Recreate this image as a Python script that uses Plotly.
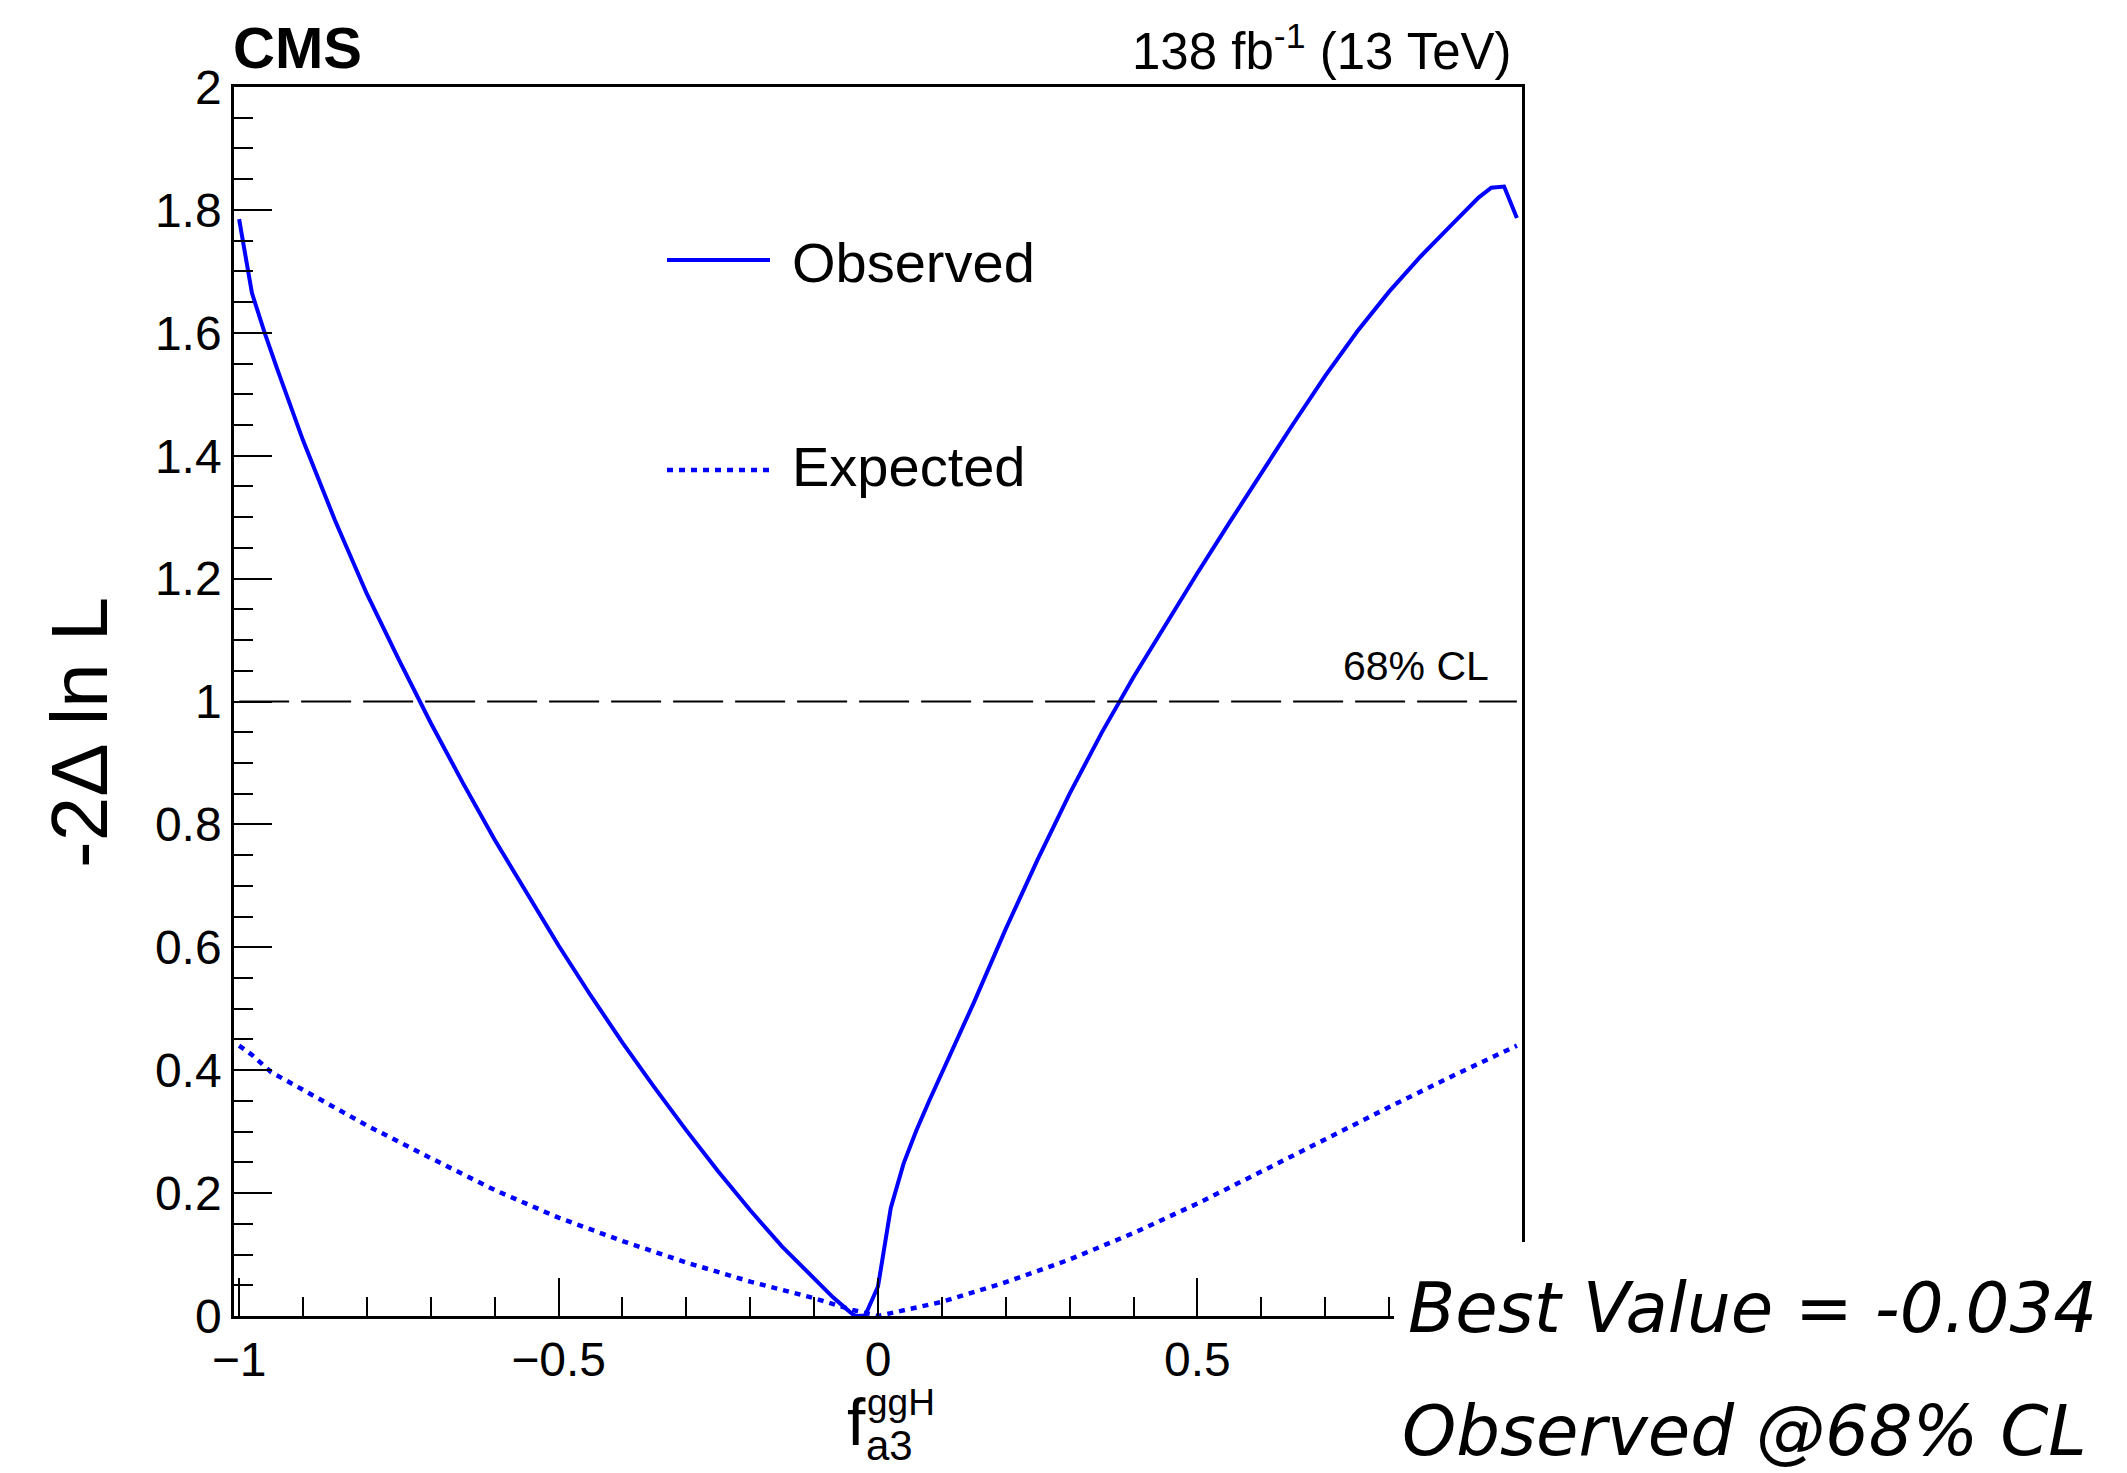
import plotly.graph_objects as go

# ---------------- data ----------------
obs_x = [-1.00, -0.99, -0.98, -0.96, -0.94, -0.90, -0.85, -0.80, -0.75, -0.70,
         -0.65, -0.60, -0.55, -0.50, -0.45, -0.40, -0.35, -0.30, -0.25, -0.20,
         -0.15, -0.10, -0.07, -0.05, -0.04, -0.034, -0.02, 0.00, 0.02, 0.04,
         0.06, 0.08, 0.10, 0.12, 0.15, 0.20, 0.25, 0.30, 0.35, 0.40,
         0.45, 0.50, 0.55, 0.60, 0.65, 0.70, 0.75, 0.80, 0.85, 0.90,
         0.94, 0.96, 0.98, 1.00]
obs_y = [1.785, 1.722, 1.665, 1.600, 1.540, 1.425, 1.295, 1.175, 1.068, 0.965,
         0.868, 0.775, 0.688, 0.603, 0.522, 0.445, 0.372, 0.302, 0.235, 0.172,
         0.113, 0.060, 0.030, 0.012, 0.003, 0.000, 0.001, 0.048, 0.176, 0.248,
         0.302, 0.350, 0.396, 0.440, 0.510, 0.630, 0.743, 0.850, 0.949, 1.040,
         1.126, 1.209, 1.291, 1.372, 1.452, 1.530, 1.602, 1.667, 1.725, 1.778,
         1.820, 1.836, 1.838, 1.787]

exp_x = [-1.00, -0.98, -0.95, -0.90, -0.80, -0.70, -0.60, -0.50, -0.40, -0.30,
         -0.20, -0.10, -0.04, 0.00, 0.10, 0.20, 0.30, 0.40, 0.50, 0.60,
         0.70, 0.80, 0.90, 1.00]
exp_y = [0.440, 0.425, 0.397, 0.368, 0.310, 0.257, 0.205, 0.160, 0.122, 0.087,
         0.056, 0.029, 0.010, 0.000, 0.023, 0.055, 0.092, 0.135, 0.183, 0.235,
         0.288, 0.340, 0.391, 0.440]

cl_x = [-1.0, 1.0]
cl_y = [1.0, 1.0]

x_tick_vals = [-1, -0.5, 0, 0.5, 1]
x_tick_text = ["\u22121", "\u22120.5", "0", "0.5", ""]
y_tick_vals = [0, 0.2, 0.4, 0.6, 0.8, 1.0, 1.2, 1.4, 1.6, 1.8, 2.0]
y_tick_text = ["0", "0.2", "0.4", "0.6", "0.8", "1", "1.2", "1.4", "1.6", "1.8", "2"]

best_value_text = "Best Value = -0.034"
observed_cl_text = "Observed @68% CL"

# ---------------- layout geometry (pixels) ----------------
W, H = 2127, 1473
L, R, T, B = 234, 1522, 87, 1316


def px(x):
    return (x - L) / (R - L)


def py(y):
    return (B - y) / (B - T)


FONT = "Liberation Sans, Arial, Helvetica, sans-serif"
NOTE_FONT = "DejaVu Sans, Open Sans, sans-serif"
BLUE = "#0000ff"

fig = go.Figure()
fig.add_trace(go.Scatter(x=obs_x, y=obs_y, mode="lines", name="Observed",
                         line=dict(color=BLUE, width=4), showlegend=False))
fig.add_trace(go.Scatter(x=exp_x, y=exp_y, mode="lines", name="Expected",
                         line=dict(color=BLUE, width=4.5, dash="6px,6px"),
                         showlegend=False))
fig.add_trace(go.Scatter(x=cl_x, y=cl_y, mode="lines", name="68% CL",
                         line=dict(color="black", width=2, dash="50px,12px"),
                         showlegend=False))

axis_common = dict(showgrid=False, zeroline=False, showline=True,
                   linecolor="black", linewidth=2.5, mirror=True,
                   ticks="inside", tickcolor="black", tickwidth=2, ticklen=38,
                   ticklabelstandoff=0,
                   tickfont=dict(family=FONT, size=48, color="black"))

fig.update_xaxes(range=[-1.008, 1.008], tickmode="array",
                 tickvals=x_tick_vals, ticktext=x_tick_text,
                 minor=dict(dtick=0.1, tick0=0, ticks="inside", ticklen=19,
                            tickwidth=2, tickcolor="black"),
                 **axis_common)
fig.update_yaxes(range=[0, 2], tickmode="array",
                 tickvals=y_tick_vals, ticktext=y_tick_text,
                 minor=dict(dtick=0.05, tick0=0, ticks="inside", ticklen=19,
                            tickwidth=2, tickcolor="black"),
                 **axis_common)

shapes = [
    # legend samples
    dict(type="line", xref="paper", yref="paper", x0=px(667), x1=px(770),
         y0=py(260), y1=py(260), line=dict(color=BLUE, width=4)),
    dict(type="line", xref="paper", yref="paper", x0=px(667), x1=px(770),
         y0=py(470), y1=py(470), line=dict(color=BLUE, width=4.5, dash="6px,6px")),
    # white panel covering the lower-right corner
    dict(type="rect", xref="paper", yref="paper", layer="above",
         x0=px(1394), x1=px(W + 5), y0=py(H + 5), y1=py(1242),
         fillcolor="white", line=dict(width=0)),
]

annotations = [
    dict(text="<b>CMS</b>", x=px(231), y=py(48), xanchor="left", yanchor="middle",
         font=dict(family=FONT, size=58, color="black")),
    dict(text="138 fb<sup>-1</sup> (13 TeV)", x=px(1514), y=py(48),
         xanchor="right", yanchor="middle",
         font=dict(family=FONT, size=51, color="black")),
    dict(text="Observed", x=px(790), y=py(262), xanchor="left", yanchor="middle",
         font=dict(family=FONT, size=56, color="black")),
    dict(text="Expected", x=px(790), y=py(466), xanchor="left", yanchor="middle",
         font=dict(family=FONT, size=56, color="black")),
    dict(text="68% CL", x=px(1491), y=py(666), xanchor="right", yanchor="middle",
         font=dict(family=FONT, size=41, color="black")),
    dict(text="-2\u0394 ln L", x=px(79), y=py(733), xanchor="center",
         yanchor="middle", textangle=-90,
         font=dict(family=FONT, size=80, color="black")),
    dict(text="f", x=px(867), y=py(1422), xanchor="right", yanchor="middle",
         borderpad=0, font=dict(family=FONT, size=66, color="black")),
    dict(text="ggH", x=px(866), y=py(1402), xanchor="left", yanchor="middle",
         borderpad=0, font=dict(family=FONT, size=37, color="black")),
    dict(text="a3", x=px(865), y=py(1445), xanchor="left", yanchor="middle",
         borderpad=0, font=dict(family=FONT, size=42, color="black")),
    dict(text="<i>" + best_value_text + "</i>", x=px(1406), y=py(1308),
         xanchor="left", yanchor="middle",
         font=dict(family=NOTE_FONT, size=69, color="black")),
    dict(text="<i>" + observed_cl_text + "</i>", x=px(1400), y=py(1431),
         xanchor="left", yanchor="middle",
         font=dict(family=NOTE_FONT, size=69, color="black")),
]
for a in annotations:
    a.update(xref="paper", yref="paper", showarrow=False)

fig.update_layout(width=W, height=H, autosize=False,
                  margin=dict(l=L, r=W - R, t=T, b=H - B, pad=0),
                  paper_bgcolor="white", plot_bgcolor="white",
                  shapes=shapes, annotations=annotations,
                  font=dict(family=FONT, color="black"))

fig.write_html("out.html")
